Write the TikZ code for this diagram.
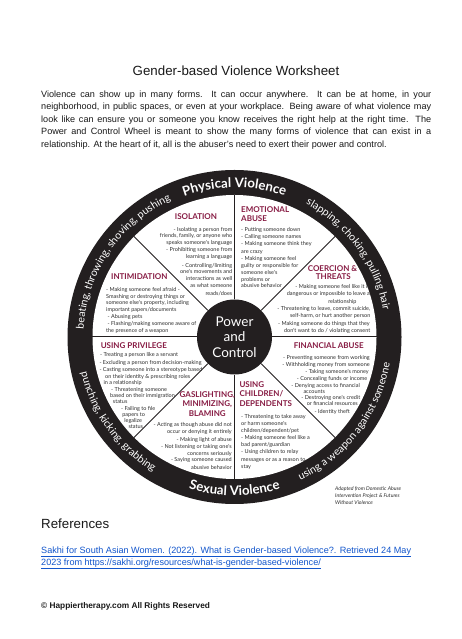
\documentclass[tikz,border=0pt]{standalone}
\usepackage{fontspec}
\setmainfont{Liberation Sans}
\newfontfamily\lato{Lato}
\usetikzlibrary{decorations.text}
\definecolor{ringc}{HTML}{231F20}
\definecolor{maroon}{RGB}{135,27,67}
\definecolor{wtext}{RGB}{45,45,45}
\definecolor{linkc}{HTML}{1155CC}
\definecolor{bodyc}{RGB}{25,25,25}
\newcommand\ringsmall{\lato\fontsize{10.6}{12}\selectfont}
\newcommand\ringbig{\lato\bfseries\fontsize{13.2}{15}\selectfont}
\tikzset{
  wl/.style={inner sep=0pt, font=\lato\fontsize{5.5}{6}\selectfont, text=wtext},
  wh/.style={inner sep=0pt, font=\lato\bfseries\fontsize{8}{9}\selectfont, text=maroon},
  wnote/.style={inner sep=0pt, font=\lato\itshape\fontsize{5.2}{6}\selectfont, text=wtext, anchor=mid west},
  ptxt/.style={inner sep=0pt, font=\fontsize{9.1}{11}\selectfont, text=bodyc, anchor=mid west},
  divider/.style={draw=ringc, line width=1pt},
  ringtxt/.style={decorate, decoration={text along path, text align=center, text color=white, text={#1}}}
}
\begin{document}
\begin{tikzpicture}[x=1pt,y=1pt]
\useasboundingbox (0,0) rectangle (461,639);
\fill[white] (0,0) rectangle (461,639);

% ---------- wheel ----------
\begin{scope}[shift={(234.5,302)}]
  \node[circle, fill=ringc, minimum size=334pt, inner sep=0pt] (wheel) at (0,0) {};
  \node[circle, fill=white, minimum size=284pt, inner sep=0pt] (inner) at (0,0) {};
  \node[circle, fill=ringc, minimum size=75pt, inner sep=0pt, text=white, align=center,
        font=\lato\fontsize{13.5}{15.3}\selectfont] (hub) at (0,0) {Power\\and\\Control};
  \foreach \a in {0,45,...,315} \draw[divider] (hub.\a) -- (inner.\a);
  \path[ringtxt={|\ringbig|Physical Violence}] (135:149.5pt) arc[start angle=135, end angle=45, radius=149.5pt];
  \path[ringtxt={|\ringsmall|slapping, choking, pulling hair}] (80:151pt) arc[start angle=80, end angle=-8, radius=151pt];
  \path[ringtxt={|\ringsmall|beating, throwing, shoving, pushing}] (200:151pt) arc[start angle=200, end angle=92, radius=151pt];
  \path[ringtxt={|\ringsmall|punching, kicking, grabbing}] (170:157.5pt) arc[start angle=170, end angle=262, radius=157.5pt];
  \path[ringtxt={|\ringbig|Sexual Violence}] (225:158.5pt) arc[start angle=225, end angle=315, radius=158.5pt];
  \path[ringtxt={|\ringsmall|using a weapon against someone}] (279:157.5pt) arc[start angle=279, end angle=366, radius=157.5pt];
\end{scope}

% ---------- text, in image coordinates ----------
\begin{scope}[shift={(0,639)}, yscale=-1]
  \node[inner sep=0pt, font=\fontsize{13.3}{16}\selectfont, text=bodyc, anchor=mid] (title) at (236,73.3) {Gender-based Violence Worksheet};
  \node[ptxt] (p1) at (41,94.5) {\makebox[390pt][s]{Violence can show up in many forms. It can occur anywhere. It can be at home, in your}};
  \node[ptxt] (p2) at (41,107.1) {\makebox[390pt][s]{neighborhood, in public spaces, or even at your workplace. Being aware of what violence may}};
  \node[ptxt] (p3) at (41,119.7) {\makebox[390pt][s]{look like can ensure you or someone you know receives the right help at the right time. The}};
  \node[ptxt] (p4) at (41,132.3) {\makebox[390pt][s]{Power and Control Wheel is meant to show the many forms of violence that can exist in a}};
  \node[ptxt] (p5) at (41,144.9) {relationship. At the heart of it, all is the abuser's need to exert their power and control.};

  % ISOLATION
  \node[wh, anchor=mid] (isoh) at (196,217.3) {ISOLATION};
  \node[wl, anchor=mid east] (iso1) at (232.5,228.7) {- Isolating a person from};
  \node[wl, anchor=mid east] (iso2) at (232.5,235.3) {friends, family, or anyone who};
  \node[wl, anchor=mid east] (iso3) at (232.5,242.3) {speaks someone's language};
  \node[wl, anchor=mid east] (iso4) at (232.5,249) {- Prohibiting someone from};
  \node[wl, anchor=mid east] (iso5) at (232.5,256) {learning a language};
  \node[wl, anchor=mid east] (iso6) at (232.5,264.7) {- Controlling/limiting};
  \node[wl, anchor=mid east] (iso7) at (232.5,271.3) {one's movements and};
  \node[wl, anchor=mid east] (iso8) at (232.5,278.3) {interactions as well};
  \node[wl, anchor=mid east] (iso9) at (232.5,285.3) {as what someone};
  \node[wl, anchor=mid east] (iso10) at (232.5,292.7) {reads/does};

  % EMOTIONAL ABUSE
  \node[wh, anchor=mid west] (emoh1) at (241,210) {EMOTIONAL};
  \node[wh, anchor=mid west] (emoh2) at (241,219.3) {ABUSE};
  \node[wl, anchor=mid west] (emo1) at (241,229) {- Putting someone down};
  \node[wl, anchor=mid west] (emo2) at (241,236.3) {- Calling someone names};
  \node[wl, anchor=mid west] (emo3) at (241,243.3) {- Making someone think they};
  \node[wl, anchor=mid west] (emo4) at (241,250.7) {are crazy};
  \node[wl, anchor=mid west] (emo5) at (241,257.5) {- Making someone feel};
  \node[wl, anchor=mid west] (emo6) at (241,265) {guilty or responsible for};
  \node[wl, anchor=mid west] (emo7) at (241,272) {someone else's};
  \node[wl, anchor=mid west] (emo8) at (241,279) {problems or};
  \node[wl, anchor=mid west] (emo9) at (241,285.3) {abusive behavior};

  % COERCION & THREATS
  \node[wh, anchor=mid] (coeh1) at (332.5,269.3) {COERCION \&};
  \node[wh, anchor=mid] (coeh2) at (333.3,277.3) {THREATS};
  \node[wl, anchor=mid east] (coe1) at (370,286) {- Making someone feel like it is};
  \node[wl, anchor=mid east] (coe2) at (370,293.3) {dangerous or impossible to leave a};
  \node[wl, anchor=mid east] (coe3) at (356.7,300.7) {relationship};
  \node[wl, anchor=mid east] (coe4) at (370.5,308.3) {- Threatening to leave, commit suicide,};
  \node[wl, anchor=mid east] (coe5) at (370.5,315.3) {self-harm, or hurt another person};
  \node[wl, anchor=mid east] (coe6) at (370,322.7) {- Making someone do things that they};
  \node[wl, anchor=mid east] (coe7) at (370.5,330) {don't want to do / violating consent};

  % FINANCIAL ABUSE
  \node[wh, anchor=mid] (finh) at (328.7,346) {FINANCIAL ABUSE};
  \node[wl, anchor=mid east] (fin1) at (370,356.7) {- Preventing someone from working};
  \node[wl, anchor=mid east] (fin2) at (370,364) {- Withholding money from someone};
  \node[wl, anchor=mid east] (fin3) at (369,370.7) {- Taking someone's money};
  \node[wl, anchor=mid east] (fin4) at (367.5,377.7) {- Concealing funds or income};
  \node[wl, anchor=mid east] (fin5) at (360,384.7) {- Denying access to financial};
  \node[wl, anchor=mid west] (fin6) at (303.3,391) {accounts};
  \node[wl, anchor=mid east] (fin7) at (360.5,397.3) {- Destroying one's credit};
  \node[wl, anchor=mid east] (fin8) at (358,403.3) {or financial resources};
  \node[wl, anchor=mid east] (fin9) at (350,410.7) {- Identity theft};

  % USING CHILDREN / DEPENDENTS
  \node[wh, anchor=mid west] (chih1) at (239.3,385) {USING};
  \node[wh, anchor=mid west] (chih2) at (239.3,394.3) {CHILDREN/};
  \node[wh, anchor=mid west] (chih3) at (239.3,404.3) {DEPENDENTS};
  \node[wl, anchor=mid west] (chi1) at (241,415.5) {- Threatening to take away};
  \node[wl, anchor=mid west] (chi2) at (241,422.5) {or harm someone's};
  \node[wl, anchor=mid west] (chi3) at (241,429.5) {children/dependent/pet};
  \node[wl, anchor=mid west] (chi4) at (241,437) {- Making someone feel like a};
  \node[wl, anchor=mid west] (chi5) at (241,444) {bad parent/guardian};
  \node[wl, anchor=mid west] (chi6) at (241,451) {- Using children to relay};
  \node[wl, anchor=mid west] (chi7) at (241,458.5) {messages or as a reason to};
  \node[wl, anchor=mid west] (chi8) at (241,466) {stay};

  % GASLIGHTING
  \node[wh, anchor=mid] (gash1) at (207.3,395) {GASLIGHTING,};
  \node[wh, anchor=mid] (gash2) at (207.3,404.3) {MINIMIZING,};
  \node[wh, anchor=mid] (gash3) at (207.3,413.5) {BLAMING};
  \node[wl, anchor=mid east] (gas1) at (232,424.3) {- Acting as though abuse did not};
  \node[wl, anchor=mid east] (gas2) at (232,431) {occur or denying it entirely};
  \node[wl, anchor=mid east] (gas3) at (232,438.7) {- Making light of abuse};
  \node[wl, anchor=mid east] (gas4) at (232,445.7) {- Not listening or taking one's};
  \node[wl, anchor=mid east] (gas5) at (232,452.7) {concerns seriously};
  \node[wl, anchor=mid east] (gas6) at (232,459.3) {- Saying someone caused};
  \node[wl, anchor=mid east] (gas7) at (232,466.7) {abusive behavior};

  % USING PRIVILEGE
  \node[wh, anchor=mid] (prih) at (133.8,346) {USING PRIVILEGE};
  \node[wl, anchor=mid west] (pri1) at (100,354) {- Treating a person like a servant};
  \node[wl, anchor=mid west] (pri2) at (99.3,362) {- Excluding a person from decision-making};
  \node[wl, anchor=mid west] (pri3) at (99.3,369) {- Casting someone into a stereotype based};
  \node[wl, anchor=mid west] (pri4) at (105,375.5) {on their identity \& prescribing roles};
  \node[wl, anchor=mid west] (pri5) at (103.3,382.3) {in a relationship};
  \node[wl, anchor=mid west] (pri6) at (111,388.8) {- Threatening someone};
  \node[wl, anchor=mid west] (pri7) at (110,395) {based on their immigration};
  \node[wl, anchor=mid west] (pri8) at (112.7,401.3) {status};
  \node[wl, anchor=mid west] (pri9) at (121,408.3) {- Failing to file};
  \node[wl, anchor=mid] (pri10) at (133.7,414.3) {papers to};
  \node[wl, anchor=mid] (pri11) at (133.2,420) {legalize};
  \node[wl, anchor=mid] (pri12) at (135.8,426) {status};

  % INTIMIDATION
  \node[wh, anchor=mid] (inth) at (139.3,276.7) {INTIMIDATION};
  \node[wl, anchor=mid west] (int1) at (106,288.7) {- Making someone feel afraid -};
  \node[wl, anchor=mid west] (int2) at (106,295.7) {Smashing or destroying things or};
  \node[wl, anchor=mid west] (int3) at (106,302.3) {someone else's property, including};
  \node[wl, anchor=mid west] (int4) at (106,309) {important papers/documents};
  \node[wl, anchor=mid west] (int5) at (107.5,316) {- Abusing pets};
  \node[wl, anchor=mid west] (int6) at (107.5,322.7) {- Flashing/making someone aware of};
  \node[wl, anchor=mid west] (int7) at (106,330) {the presence of a weapon};

  % note
  \node[wnote] (note1) at (335,488.3) {Adapted from Domestic Abuse};
  \node[wnote] (note2) at (335,495) {Intervention Project \& Futures};
  \node[wnote] (note3) at (335,502.3) {Without Violence};

  % references & footer
  \node[inner sep=0pt, font=\fontsize{13.3}{16}\selectfont, text=bodyc, anchor=mid west] (refh) at (41,525.7) {References};
  \node[ptxt, text=linkc] (ref1) at (41,550.7) {\underline{Sakhi for South Asian Women. (2022). What is Gender-based Violence?. Retrieved 24 May}};
  \node[ptxt, text=linkc] (ref2) at (41,562.7) {\underline{2023 from https://sakhi.org/resources/what-is-gender-based-violence/}};
  \node[inner sep=0pt, font=\bfseries\fontsize{8.3}{10}\selectfont, text=bodyc, anchor=mid west] (foot) at (41,606) {© Happiertherapy.com All Rights Reserved};
\end{scope}
\end{tikzpicture}
\end{document}
